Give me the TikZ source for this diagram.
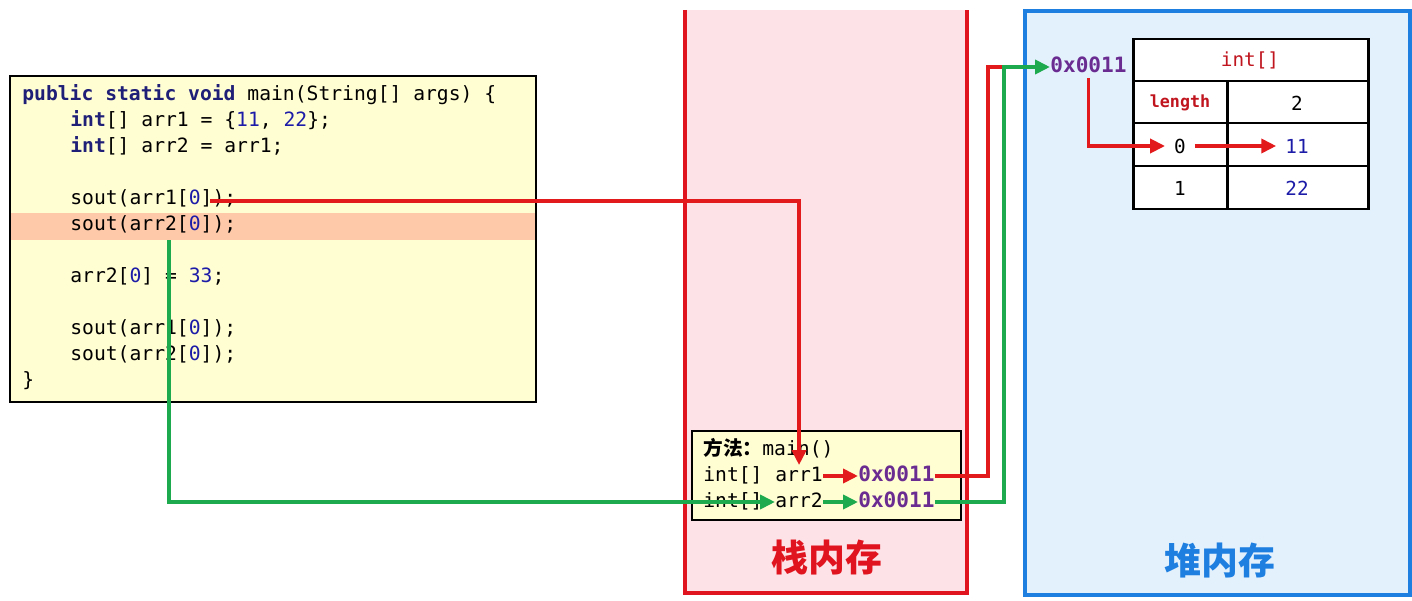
\documentclass[tikz,border=0pt]{standalone}
\usepackage{fontspec}
\setmainfont{DejaVu Sans}
\newfontfamily\codefont{DejaVu Sans Mono}
\newfontfamily\cjk{Noto Sans CJK SC}
\usetikzlibrary{arrows.meta,positioning}
\definecolor{KwNavy}{HTML}{1F1F78}
\definecolor{NumBlue}{HTML}{1C1CA8}
\definecolor{AddrPurple}{HTML}{6A2C91}
\definecolor{CodeFill}{HTML}{FFFDD2}
\definecolor{LineFill}{HTML}{FDC9A9}
\definecolor{StackFill}{HTML}{FDE2E7}
\definecolor{StackRed}{HTML}{E0141E}
\definecolor{HeapFill}{HTML}{E3F1FD}
\definecolor{HeapBlue}{HTML}{1E7FE0}
\definecolor{ArrowRed}{HTML}{E31A1C}
\definecolor{ArrowGreen}{HTML}{1DAA4E}
\definecolor{TypeRed}{HTML}{C0141E}
\newcommand\kw[1]{{\bfseries\color{KwNavy}#1}}
\newcommand\num[1]{\textcolor{NumBlue}{#1}}

\begin{document}
\begin{tikzpicture}[x=0.02cm,y=-0.02cm,
  code/.style={font=\fontsize{11.2}{13}\selectfont\codefont,anchor=west,inner sep=0pt,text height=9pt,text depth=3pt},
  addr/.style={font=\fontsize{12}{14}\selectfont\codefont\bfseries,text=AddrPurple,inner sep=0pt,text height=9pt,text depth=3pt},
  cell/.style={font=\fontsize{11}{13}\selectfont\codefont,inner sep=5pt},
  area/.style={font=\fontsize{21}{24}\selectfont\cjk\bfseries},
  redarrow/.style={-{Triangle[length=3mm,width=2.8mm]},line width=2.2pt,ArrowRed},
  greenarrow/.style={-{Triangle[length=3mm,width=2.8mm]},line width=2.2pt,ArrowGreen}]
\useasboundingbox (0,0) rectangle (1412,601);
% code box
\fill[CodeFill] (10,76) rectangle (536,402);
\fill[LineFill] (10,213) rectangle (536,240);
\draw[line width=1pt] (10,76) rectangle (536,402);
\node[code] (l1) at (22,95) {\kw{public static void} main(String[] args) \{};
\node[code] (l2) at (70,121) {\kw{int}[] arr1 = \{\num{11}, \num{22}\};};
\node[code] (l3) at (70,147) {\kw{int}[] arr2 = arr1;};
\node[code] (s1) at (70,199) {sout(arr1[\num{0}]);};
\node[code] (s2) at (70,225) {sout(arr2[\num{0}]);};
\node[code] (l6) at (70,277) {arr2[\num{0}] = \num{33};};
\node[code] (s3) at (70,329) {sout(arr1[\num{0}]);};
\node[code] (s4) at (70,355) {sout(arr2[\num{0}]);};
\node[code] (l9) at (22,381) {\}};
% stack
\fill[StackFill] (685,10) rectangle (967,593);
\draw[StackRed,line width=2.2pt] (685,10) -- (685,593) -- (967,593) -- (967,10);
\node[area,text=StackRed] (stack) at (827,557) {栈内存};
\draw[fill=CodeFill,line width=1pt] (692,431) rectangle (961,520);
\node[code] (m) at (703,450) {{\cjk\bfseries 方法：}main()};
\node[code] (t1) at (703,476) {int[]};
\node[code] (a1) at (775,476) {arr1};
\node[addr,anchor=west] (p1) at (858,476) {0x0011};
\node[code] (t2) at (703,502) {int[]};
\node[code] (a2) at (775,502) {arr2};
\node[addr,anchor=west] (p2) at (858,502) {0x0011};
% heap
\fill[HeapFill] (1025,11) rectangle (1410,595);
\draw[HeapBlue,line width=2.2pt] (1025,11) rectangle (1410,595);
\node[area,text=HeapBlue] (heap) at (1220,560) {堆内存};
\node[addr,anchor=west] (h0) at (1050,67) {0x0011};
\draw[fill=white,line width=1.7pt] (1133,39) rectangle (1368,209);
\draw[line width=1.7pt] (1133,81) -- (1368,81) (1133,123) -- (1368,123) (1133,166) -- (1368,166) (1227,81) -- (1227,209);
\node[cell,text=TypeRed] (ty) at (1250,60) {int[]};
\node[cell,text=TypeRed,font=\fontsize{9.5}{11}\selectfont\codefont\bfseries] (len) at (1180,103) {length};
\node[cell] (lv) at (1297,103) {2};
\node[cell] (i0) at (1180,146) {0};
\node[cell,text=NumBlue] (v0) at (1297,146) {11};
\node[cell] (i1) at (1180,188) {1};
\node[cell,text=NumBlue] (v1) at (1297,188) {22};
% connectors
\coordinate (r0) at (210,201);
\coordinate (g0) at (169,240);
\coordinate (rc) at (988,67);
\coordinate (gc) at (1004,67);
\draw[redarrow] (r0) -| (a1.north);
\draw[redarrow] (a1.east) -- (p1.west);
\draw[greenarrow] (g0) |- (a2.west);
\draw[greenarrow] (a2.east) -- (p2.west);
\draw[redarrow,-] (p1.east) -| (rc) -- (gc);
\draw[greenarrow] (p2.east) -| (gc) -- (h0.west);
\draw[redarrow] (h0.south) |- (i0.west);
\draw[redarrow] (i0.east) -- (v0.west);
\end{tikzpicture}
\end{document}
